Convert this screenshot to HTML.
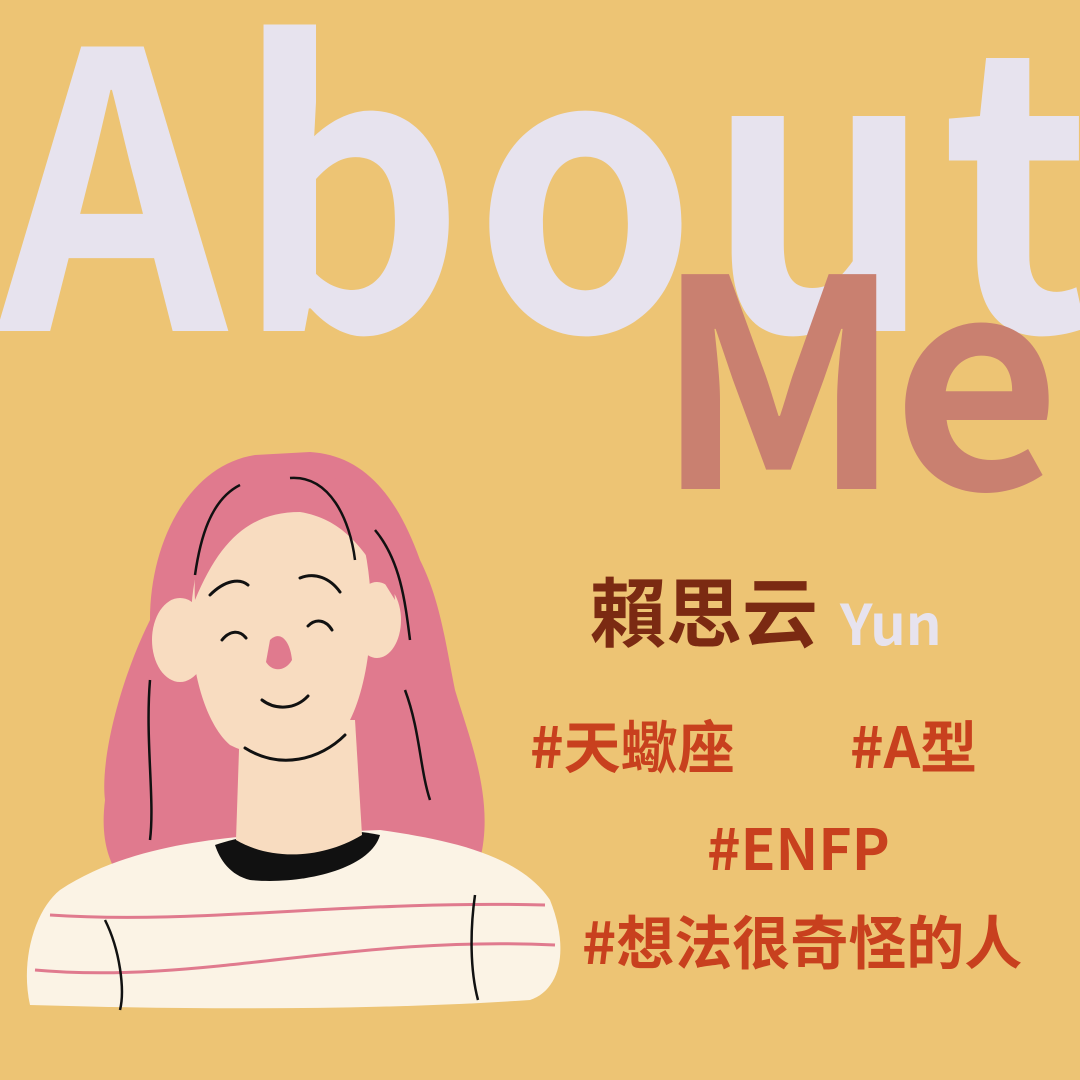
<!DOCTYPE html>
<html><head><meta charset="utf-8"><style>
html,body{margin:0;padding:0}
body{width:1080px;height:1080px;background:#EDC474;position:relative;overflow:hidden;font-family:"Noto Sans CJK TC","Liberation Sans",sans-serif}
.t{position:absolute;white-space:nowrap;font-weight:bold;line-height:1}
</style></head><body>
<div class="t" style="left:-2px;top:-28px;font-size:384px;color:#E7E3EE;letter-spacing:9px;transform:scaleX(0.93);transform-origin:0 0">About</div>
<div class="t" style="left:655px;top:218px;font-size:290px;color:#C98070;letter-spacing:-10px">Me</div>
<div class="t" style="left:590px;top:570px;font-size:76px;color:#7B2A12">賴思云</div>
<div class="t" style="left:840px;top:594px;font-size:56px;color:#E7E3EE">Yun</div>
<div class="t" style="left:530px;top:716px;font-size:57px;color:#C8401E">#天蠍座</div>
<div class="t" style="left:850px;top:716px;font-size:57px;color:#C8401E">#A型</div>
<div class="t" style="left:707px;top:818px;font-size:57px;color:#C8401E">#ENFP</div>
<div class="t" style="left:582px;top:910px;font-size:58px;color:#C8401E">#想法很奇怪的人</div>
<svg width="1080" height="1080" style="position:absolute;left:0;top:0">
<path fill="#E07A8E" d="M255 455 C190 465 150 540 150 620 C120 680 100 760 105 800 C100 840 110 860 115 870 L480 860 C495 800 470 740 455 690 C445 640 440 600 420 560 C395 490 360 455 310 452 Z"/>
<path fill="#FBF3E5" d="M60 890 C120 850 200 840 260 835 L380 830 C450 840 520 855 550 900 C570 950 560 990 530 1000 C380 1010 200 1010 30 1005 C20 960 35 910 60 890 Z"/>
<path fill="none" stroke="#E07A8E" stroke-width="3" d="M50 915 C200 925 350 900 545 905 M35 970 C200 985 350 935 555 945"/>
<path fill="none" stroke="#111" stroke-width="2.5" d="M105 920 C120 950 125 990 120 1010 M475 895 C470 930 470 970 478 1000"/>
<path fill="#111" d="M215 845 C260 830 330 825 380 835 C370 870 300 885 250 880 C230 875 220 860 215 845 Z"/>
<path fill="#F8DCC0" d="M240 720 L355 720 L362 835 C320 860 270 860 236 840 Z"/>
<path fill="#F8DCC0" d="M200 560 C230 500 320 490 360 530 C380 600 370 680 350 720 C320 760 270 765 230 745 C195 715 180 620 200 560 Z"/>
<ellipse cx="180" cy="640" rx="28" ry="42" fill="#F8DCC0"/>
<ellipse cx="377" cy="620" rx="24" ry="38" fill="#F8DCC0"/>
<path fill="#E07A8E" d="M195 600 C190 520 240 470 300 468 C350 470 390 520 395 600 C370 560 350 520 300 512 C250 512 220 540 195 600 Z"/>
<path fill="none" stroke="#111" stroke-width="3" stroke-linecap="round" d="M210 595 C225 580 240 578 248 585 M300 578 C315 572 330 578 340 592 M222 640 C230 630 240 630 246 638 M308 626 C316 618 326 620 332 630 M262 700 C275 710 295 710 308 696 M245 748 C280 770 320 760 345 735"/>
<path fill="none" stroke="#111" stroke-width="2.5" d="M240 485 C210 500 200 540 195 575 M290 478 C330 475 350 520 355 560 M375 530 C400 560 405 600 410 640 M150 680 C145 740 155 800 150 840 M405 690 C420 730 420 770 430 800"/>
<path fill="#E07A8E" d="M270 640 C280 630 290 640 292 660 C285 672 272 672 266 662 Z"/>
</svg>
</body></html>
